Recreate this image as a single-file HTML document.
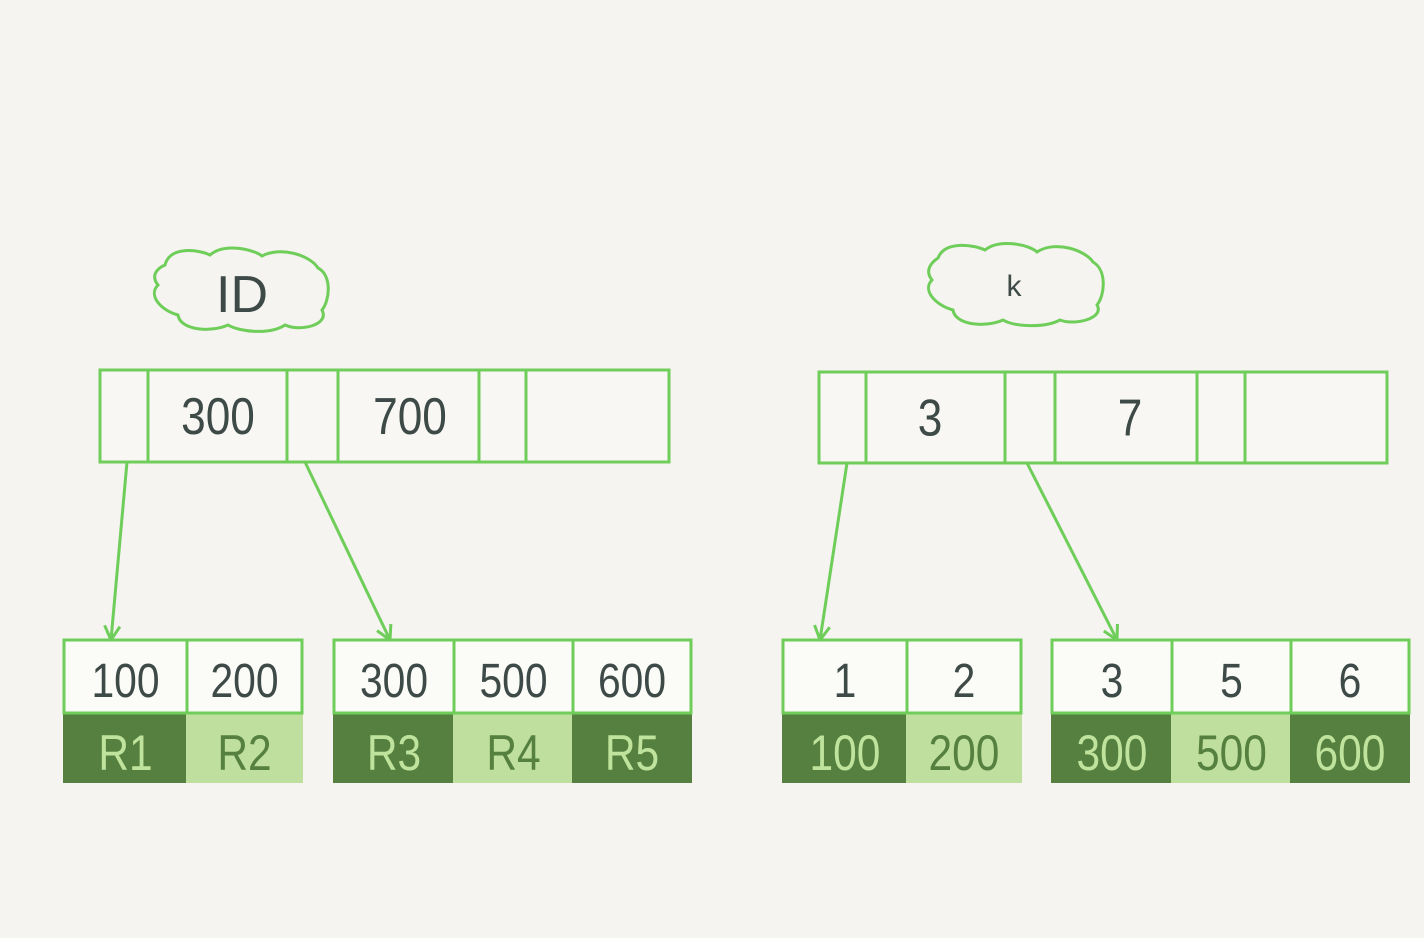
<!DOCTYPE html>
<html><head><meta charset="utf-8"><style>
html,body{margin:0;padding:0;background:#f5f4f0;}
svg{display:block}
text{font-family:"Liberation Sans",sans-serif;}
</style></head><body>
<svg width="1424" height="938" viewBox="0 0 1424 938">
<rect width="1424" height="938" fill="#f5f4f0"/>
<g stroke="#6fcd5a" stroke-width="3" fill="none">
<path d="M165,265 C170,245 200,250 210,255 C225,242 255,250 262,256 C280,246 310,255 318,268 C332,275 330,300 322,310 C330,325 300,332 285,325 C270,335 240,332 228,325 C210,333 180,330 178,315 C160,310 148,295 158,285 C150,275 158,268 165,265 Z"/>
<path d="M938,258 C945,240 975,245 985,250 C1000,238 1030,245 1037,252 C1055,240 1085,250 1093,262 C1107,270 1105,295 1097,305 C1105,318 1075,326 1060,320 C1045,328 1015,327 1003,320 C985,328 955,325 953,310 C935,305 922,290 932,280 C924,270 932,262 938,258 Z"/>
</g>
<text x="242" y="312" font-size="52" text-anchor="middle" style="fill:#3d4a47">ID</text>
<text x="1014" y="296" font-size="30" text-anchor="middle" style="fill:#3d4a47">k</text>
<g id="g" stroke="#6fcd5a" stroke-width="3"></g>
</svg>
<script>
const svg=document.querySelector('#g');
const NS='http://www.w3.org/2000/svg';
function el(t,a,p){const e=document.createElementNS(NS,t);for(const k in a)e.setAttribute(k,a[k]);(p||svg).appendChild(e);return e;}
function txt(x,y,s,size,fill,name){const t=el('text',{x:x,y:y,'font-size':size,'text-anchor':'middle',stroke:'none',style:'fill:'+fill,transform:'translate('+x+' 0) scale(0.85 1) translate('+(-x)+' 0)'});t.textContent=s;


return t;}
function root(x0,x1,y0,y1,divs,labels,name){
 const r=el('rect',{x:x0,y:y0,width:x1-x0,height:y1-y0,fill:'#f8f7f3'});
 
 
 divs.forEach(d=>el('line',{x1:d,y1:y0,x2:d,y2:y1}));
 labels.forEach(l=>txt(l[0],(y0+y1)/2+18,l[1],52,'#3d4a47',name+'-key'));
}
root(100,669,370,462,[148,287,338,479,526],[[218,'300'],[410,'700']],'id-root-node');
root(819,1387,372,463,[866,1005,1055,1197,1245],[[930,'3'],[1130,'7']],'k-root-node');
function leaf(x0,cells,keys,vals,dark,name){
 let x=x0;
 cells.forEach((w,i)=>{
  const c=el('rect',{x:x-1,y:713,width:w+2,height:70,fill:dark[i]?'#55803f':'#bfdf9e',stroke:'none'});
  
  
  const k=el('rect',{x:x,y:640,width:w,height:73,fill:'#fbfbf8'});
  
  
  txt(x+w/2,697,keys[i],48,'#3d4a47',name+'-key');
  txt(x+w/2,770,vals[i],50,dark[i]?'#bfe39c':'#55803f',name+'-value');
  x+=w;
 });
}
leaf(64,[123,115],['100','200'],['R1','R2'],[1,0],'id-leaf-1');
leaf(334,[120,119,118],['300','500','600'],['R3','R4','R5'],[1,0,1],'id-leaf-2');
leaf(783,[124,114],['1','2'],['100','200'],[1,0],'k-leaf-1');
leaf(1052,[120,119,118],['3','5','6'],['300','500','600'],[1,0,1],'k-leaf-2');
function arrow(x1,y1,x2,y2,name){
 const g=el('g',{});
 
 
 el('line',{x1:x1,y1:y1,x2:x2,y2:y2},g);
 const a=Math.atan2(y2-y1,x2-x1);
 [0.5,-0.5].forEach(d=>el('line',{x1:x2,y1:y2,x2:x2-16*Math.cos(a+d),y2:y2-16*Math.sin(a+d)},g));
}
arrow(127,462,111,640,'arrow-id-1');
arrow(305,462,390,640,'arrow-id-2');
arrow(847,463,820,640,'arrow-k-1');
arrow(1027,463,1117,640,'arrow-k-2');
</script>
</body></html>
